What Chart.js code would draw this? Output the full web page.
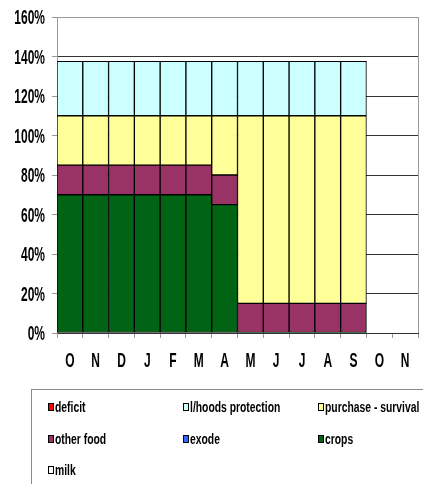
<!DOCTYPE html>
<html>
<head>
<meta charset="utf-8">
<script src="https://cdn.jsdelivr.net/npm/chart.js@4.4.1/dist/chart.umd.min.js"></script>
<style>
  html, body { margin: 0; padding: 0; background: #fff; }
  #wrap { position: relative; width: 423px; height: 484px; overflow: hidden; }
  #wrap canvas { position: absolute; left: 0; top: 0; }
  #legendBox {
    position: absolute; left: 31px; top: 389px; width: 420px; height: 120px;
    border: 1px solid #8a8a8a; box-sizing: border-box;
  }
  .sw { position: absolute; width: 4px; height: 6px; border: 1px solid #000; }
  .txt {
    position: absolute; white-space: nowrap; line-height: 16px;
    font-family: "Liberation Sans", Arial, sans-serif; font-weight: bold; font-size: 15px; color: #000;
    transform: scaleX(0.69); transform-origin: 0 50%;
  }
</style>
</head>
<body>
<div id="wrap">
  <canvas id="c" width="423" height="484"></canvas>
  <div id="legendBox"></div>
</div>
<script>
// Months of the season, October to the following November
const months = ['O', 'N', 'D', 'J', 'F', 'M', 'A', 'M', 'J', 'J', 'A', 'S', 'O', 'N'];

// Share of food needs covered by each source (%)
const crops     = [70, 70, 70, 70, 70, 70, 65, 0, 0, 0, 0, 0, null, null];
const otherFood = [15, 15, 15, 15, 15, 15, 15, 15, 15, 15, 15, 15, null, null];
const purchase  = [25, 25, 25, 25, 25, 25, 30, 95, 95, 95, 95, 95, null, null];
const lhoods    = [27.5, 27.5, 27.5, 27.5, 27.5, 27.5, 27.5, 27.5, 27.5, 27.5, 27.5, 27.5, null, null];
const deficit   = [0, 0, 0, 0, 0, 0, 0, 0, 0, 0, 0, 0, null, null];
const exode     = [0, 0, 0, 0, 0, 0, 0, 0, 0, 0, 0, 0, null, null];
const milk      = [0, 0, 0, 0, 0, 0, 0, 0, 0, 0, 0, 0, null, null];

// Y axis tick values (%)
const yTicks = [0, 20, 40, 60, 80, 100, 120, 140, 160];

const series = [
  { key: 'crops',    label: 'crops',               data: crops,     color: '#006414' },
  { key: 'other',    label: 'other food',          data: otherFood, color: '#993366' },
  { key: 'purchase', label: 'purchase - survival', data: purchase,  color: '#FFFF99' },
  { key: 'lhoods',   label: 'l/hoods protection',  data: lhoods,    color: '#CCFFFF' },
  { key: 'deficit',  label: 'deficit',             data: deficit,   color: '#FF0000' },
  { key: 'exode',    label: 'exode',               data: exode,     color: '#3366FF' },
  { key: 'milk',     label: 'milk',                data: milk,      color: '#FFFFFF' }
];

// Legend layout: three columns, three rows
const legendOrder = ['deficit', 'lhoods', 'purchase', 'other', 'exode', 'crops', 'milk'];
const legendCols = [48, 183, 318];
const legendRows = [407, 439, 470];

const FONT = '"Liberation Sans", Arial, sans-serif';
const SQUEEZE = 0.6;   // condensed lettering for axis labels

// Gray outline on the right side of the plot area
const plotFrame = {
  id: 'plotFrame',
  beforeDatasetsDraw(chart) {
    const { ctx, chartArea: a } = chart;
    ctx.save();
    ctx.strokeStyle = '#9a9a9a';
    ctx.lineWidth = 1;
    ctx.beginPath();
    ctx.moveTo(Math.round(a.right) + 0.5, a.top);
    ctx.lineTo(Math.round(a.right) + 0.5, a.bottom);
    ctx.stroke();
    ctx.restore();
  }
};

// Condensed, tall axis labels placed at the scales' own tick positions
const narrowLabels = {
  id: 'narrowLabels',
  afterDraw(chart) {
    const { ctx } = chart;
    const xs = chart.scales.x, ys = chart.scales.y;
    ctx.save();
    ctx.fillStyle = '#000';
    ctx.font = 'bold 20px ' + FONT;
    ctx.textBaseline = 'alphabetic';
    xs.ticks.forEach((t, i) => {
      ctx.save();
      ctx.translate(xs.getPixelForTick(i), 367);
      ctx.scale(SQUEEZE, 1);
      ctx.textAlign = 'center';
      ctx.fillText(chart.data.labels[i], 0, 0);
      ctx.restore();
    });
    ys.ticks.forEach(t => {
      ctx.save();
      ctx.translate(45, ys.getPixelForValue(t.value) + 7);
      ctx.scale(SQUEEZE, 1);
      ctx.textAlign = 'right';
      ctx.fillText(t.value + '%', 0, 0);
      ctx.restore();
    });
    ctx.restore();
  }
};

const chart = new Chart(document.getElementById('c'), {
  type: 'bar',
  data: {
    labels: months,
    datasets: series.map(s => ({
      label: s.label,
      data: s.data,
      backgroundColor: s.color,
      borderColor: '#000',
      borderWidth: ctx => (ctx.raw ? 1 : 0),
      borderSkipped: false,
      barPercentage: 1,
      categoryPercentage: 1,
      stack: 'food'
    }))
  },
  options: {
    responsive: false,
    animation: false,
    devicePixelRatio: 1,
    layout: { padding: { left: 0, top: 17, right: 5, bottom: 111 } },
    plugins: { legend: { display: false }, tooltip: { enabled: false } },
    scales: {
      x: {
        stacked: true,
        afterFit(scale) { scale.height = 40; },
        grid: { offset: true, drawOnChartArea: false, drawTicks: true, tickLength: 5, color: '#9a9a9a' },
        border: { color: '#333', width: 1 },
        ticks: { color: 'rgba(0,0,0,0)', padding: 10, font: { family: FONT, weight: 'bold', size: 15 } }
      },
      y: {
        stacked: true,
        min: 0,
        max: 160,
        afterFit(scale) { scale.width = 57; },
        afterBuildTicks(scale) { scale.ticks = yTicks.map(v => ({ value: v })); },
        grid: {
          color: ctx => (ctx.tick && ctx.tick.value === 160 ? '#9a9a9a' : '#333'),
          tickColor: '#9a9a9a',
          tickLength: 5
        },
        border: { color: '#9a9a9a', width: 1 },
        ticks: {
          color: 'rgba(0,0,0,0)', padding: 8,
          font: { family: FONT, weight: 'bold', size: 15 },
          callback: v => v + '%'
        }
      }
    }
  },
  plugins: [plotFrame, narrowLabels]
});

// Legend built from the chart's datasets
const wrap = document.getElementById('wrap');
legendOrder.forEach((key, i) => {
  const s = series.find(d => d.key === key);
  const x = legendCols[i % 3];
  const y = legendRows[Math.floor(i / 3)];
  const sw = document.createElement('div');
  sw.className = 'sw';
  sw.style.left = x + 'px';
  sw.style.top = (y - 4) + 'px';
  sw.style.background = s.color;
  wrap.appendChild(sw);
  const tx = document.createElement('div');
  tx.className = 'txt';
  tx.style.left = (x + 7) + 'px';
  tx.style.top = (y - 8) + 'px';
  tx.textContent = s.label;
  wrap.appendChild(tx);
});
</script>
</body>
</html>
